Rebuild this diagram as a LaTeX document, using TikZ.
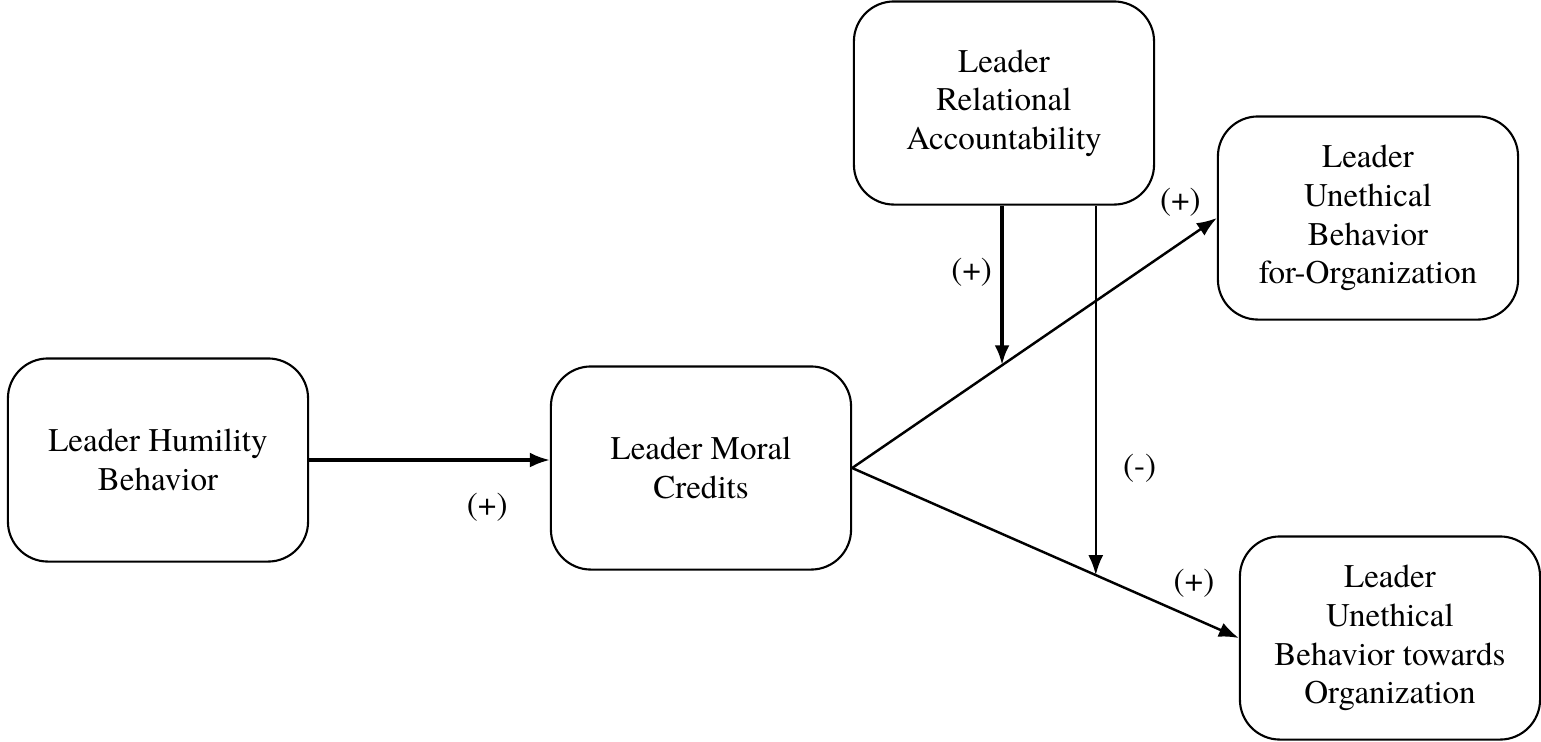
\documentclass[tikz,border=0pt]{standalone}
\usepackage{fontspec}
\setmainfont{TeX Gyre Termes}
\usepackage{tikz}
\usetikzlibrary{arrows.meta,positioning,calc}

\begin{document}
\begin{tikzpicture}[
    x=0.01cm, y=-0.01cm,
    font=\fontsize{9.4}{11}\selectfont,
    block/.style={rectangle, draw, line width=0.6pt, align=center, rounded corners=0.4cm, minimum width=3cm, minimum height=2.03cm, inner sep=0pt},
    line/.style={draw, -{Latex[length=2mm]}, line width=0.7pt},
    sign/.style={inner sep=0pt}
]
    \useasboundingbox (0,0) rectangle (1541,741);

    % Nodes
    \node [block] (humility) at (158,460) {Leader Humility\\Behavior};
    \node [block] (credits) at (701,468) {Leader Moral\\Credits};
    \node [block] (account) at (1004,103) {Leader\\Relational\\Accountability};
    \node [block] (ubfor) at (1368,218) {Leader\\Unethical\\Behavior\\for-Organization};
    \node [block] (ubto) at (1390,638) {Leader\\Unethical\\Behavior towards\\Organization};

    % Points where the moderators meet the paths
    \path (credits.east) -- (ubfor.west) coordinate[pos=0.411] (modfor);
    \path (credits.east) -- (ubto.west) coordinate[pos=0.63] (modto);

    % Edges
    \path [line, line width=0.9pt] (humility.east) -- node [pos=0.74, below=0.32cm, sign] {(+)} (humility.east -| credits.west);
    \path [line] (credits.east) -- node [pos=0.9, above=0.25cm, sign] {(+)} (ubfor.west);
    \path [line] (credits.east) -- node [pos=0.884, above=0.2cm, sign] {(+)} (ubto.west);
    \path [line, line width=1.2pt] (modfor |- account.south) -- node [pos=0.42, left=0.08cm, sign] {(+)} (modfor);
    \path [line] (modto |- account.south) -- node [pos=0.71, right=0.26cm, sign] {(-)} (modto);
\end{tikzpicture}
\end{document}
